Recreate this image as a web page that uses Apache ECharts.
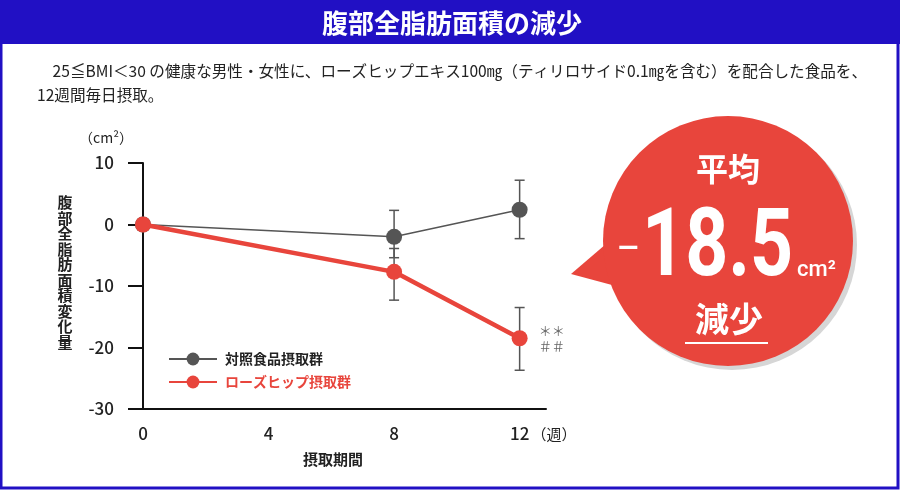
<!DOCTYPE html>
<html>
<head>
<meta charset="utf-8">
<script src="https://cdn.jsdelivr.net/npm/echarts@6.0.0/dist/echarts.min.js"></script>
<style>
  html, body { margin: 0; padding: 0; background: #fff; }
  #main { width: 900px; height: 490px; }
</style>
</head>
<body>
<div id="main"></div>
<script>
// データ (週, 平均, 誤差下限, 誤差上限)
const weeks = [0, 8, 12];
const controlMean = [0, -2.0, 2.4];
const controlLow = [null, -5.4, -2.3];
const controlHigh = [null, 2.3, 7.2];
const roseMean = [0, -7.7, -18.5];
const roseLow = [null, -12.3, -23.7];
const roseHigh = [null, -3.9, -13.5];
const xTicks = [0, 4, 8, 12];
const yTicks = [-30, -20, -10, 0, 10];
const seriesNames = ['対照食品摂取群', 'ローズヒップ摂取群'];

const FONT = '"Noto Sans CJK JP", "Noto Sans", sans-serif';
const RED = '#E8453C';
const GRAY = '#555555';
const BLUE = '#2110C4';

const chart = echarts.init(document.getElementById('main'));

// 誤差棒用データ
function errData(low, high) {
    const out = [];
    weeks.forEach(function (w, i) {
        if (low[i] != null) out.push([w, low[i], high[i]]);
    });
    return out;
}

function renderErr(params, api) {
    const x = api.value(0);
    const top = api.coord([x, api.value(2)]);
    const bot = api.coord([x, api.value(1)]);
    const w = 5;
    const st = { stroke: GRAY, lineWidth: 1.5 };
    return {
        type: 'group',
        children: [
            { type: 'line', shape: { x1: top[0], y1: top[1], x2: bot[0], y2: bot[1] }, style: st },
            { type: 'line', shape: { x1: top[0] - w, y1: top[1], x2: top[0] + w, y2: top[1] }, style: st },
            { type: 'line', shape: { x1: bot[0] - w, y1: bot[1], x2: bot[0] + w, y2: bot[1] }, style: st }
        ]
    };
}

const roseData = weeks.map(function (w, i) {
    const item = { value: [w, roseMean[i]] };
    if (i === weeks.length - 1) {
        // 有意差マーク
        item.label = {
            show: true,
            position: 'right',
            distance: 11,
            formatter: '＊＊\n＃＃',
            color: '#666',
            fontSize: 13,
            lineHeight: 15,
            fontFamily: FONT
        };
    }
    return item;
});

const option = {
    animation: false,
    backgroundColor: '#fff',
    grid: { left: 143, top: 163, width: 403, height: 246 },
    xAxis: {
        type: 'value',
        min: 0,
        max: 12.84,
        interval: 4,
        axisLine: { show: true, onZero: false, lineStyle: { color: '#111', width: 2 } },
        axisTick: { show: false },
        splitLine: { show: false },
        axisLabel: {
            margin: 16,
            fontSize: 17,
            fontWeight: 500,
            color: '#222',
            fontFamily: FONT,
            formatter: function (v) { return xTicks.indexOf(v) >= 0 ? String(v) : ''; }
        }
    },
    yAxis: {
        type: 'value',
        min: yTicks[0],
        max: yTicks[yTicks.length - 1],
        interval: 10,
        axisLine: { show: true, onZero: false, lineStyle: { color: '#111', width: 2 } },
        axisTick: { show: true, length: 15, lineStyle: { color: '#111', width: 2 } },
        splitLine: { show: false },
        axisLabel: { margin: 29, fontSize: 17, fontWeight: 500, color: '#222', fontFamily: FONT }
    },
    legend: {
        orient: 'vertical',
        left: 168,
        top: 352,
        padding: 0,
        itemWidth: 48,
        itemHeight: 16,
        itemGap: 9,
        textStyle: { fontSize: 14, fontFamily: FONT, fontWeight: 'bold', padding: [0, 0, 0, 3] },
        data: [
            { name: seriesNames[0], textStyle: { color: '#222' } },
            { name: seriesNames[1], textStyle: { color: RED } }
        ]
    },
    series: [
        {
            type: 'custom',
            name: 'err-control',
            renderItem: renderErr,
            encode: { x: 0, y: [1, 2] },
            data: errData(controlLow, controlHigh),
            z: 1
        },
        {
            type: 'custom',
            name: 'err-rose',
            renderItem: renderErr,
            encode: { x: 0, y: [1, 2] },
            data: errData(roseLow, roseHigh),
            z: 1
        },
        {
            type: 'line',
            name: seriesNames[0],
            data: weeks.map(function (w, i) { return [w, controlMean[i]]; }),
            symbol: 'circle',
            symbolSize: 16,
            lineStyle: { color: GRAY, width: 1.5 },
            itemStyle: { color: GRAY },
            z: 2
        },
        {
            type: 'line',
            name: seriesNames[1],
            data: roseData,
            symbol: 'circle',
            symbolSize: 16,
            lineStyle: { color: RED, width: 4.5 },
            itemStyle: { color: RED },
            z: 3
        }
    ],
    graphic: [
        // 外枠
        { type: 'rect', shape: { x: 1, y: 1, width: 897, height: 487 }, style: { fill: null, stroke: BLUE, lineWidth: 3 }, z: 10 },
        // ヘッダー
        { type: 'rect', shape: { x: 0, y: 0, width: 900, height: 44 }, style: { fill: BLUE }, z: 10 },
        {
            type: 'text', x: 452, y: 23, z: 11,
            style: { text: '腹部全脂肪面積の減少', fill: '#fff', font: 'bold 26px ' + FONT, textAlign: 'center', textVerticalAlign: 'middle' }
        },
        // 説明文
        {
            type: 'text', x: 37, y: 71,
            style: { text: '　25≦BMI＜30 の健康な男性・女性に、ローズヒップエキス100㎎（ティリロサイド0.1㎎を含む）を配合した食品を、', fill: '#222', font: '15.6px ' + FONT, textVerticalAlign: 'middle' }
        },
        {
            type: 'text', x: 37, y: 95,
            style: { text: '12週間毎日摂取。', fill: '#222', font: '15.6px ' + FONT, textVerticalAlign: 'middle' }
        },
        // 軸ラベル
        {
            type: 'text', x: 106, y: 138,
            style: { text: '（cm²）', fill: '#222', font: '14px ' + FONT, textAlign: 'center', textVerticalAlign: 'middle' }
        },
        {
            type: 'text', x: 65, y: 195,
            style: { text: '腹部全脂肪面積変化量'.split('').join('\n'), fill: '#222', font: 'bold 15px ' + FONT, lineHeight: 15.5, textAlign: 'center', textVerticalAlign: 'top' }
        },
        {
            type: 'text', x: 333, y: 459,
            style: { text: '摂取期間', fill: '#222', font: 'bold 15px ' + FONT, textAlign: 'center', textVerticalAlign: 'middle' }
        },
        {
            type: 'text', x: 554, y: 434,
            style: { text: '（週）', fill: '#222', font: '15px ' + FONT, textAlign: 'center', textVerticalAlign: 'middle' }
        },
        // 吹き出し
        { type: 'circle', shape: { cx: 732, cy: 245, r: 125 }, style: { fill: '#d6d6d6' }, z: 5 },
        { type: 'polygon', shape: { points: [[571, 274], [606, 244], [612, 285]] }, style: { fill: RED }, z: 6 },
        { type: 'circle', shape: { cx: 728, cy: 241, r: 125 }, style: { fill: RED }, z: 6 },
        {
            type: 'text', x: 728, y: 169, z: 7,
            style: { text: '平均', fill: '#fff', font: 'bold 32px ' + FONT, textAlign: 'center', textVerticalAlign: 'middle' }
        },
        {
            type: 'text', x: 628, y: 252, z: 7,
            style: { text: '−', fill: '#fff', font: '44px Roboto, ' + FONT, textAlign: 'center', textVerticalAlign: 'middle' }
        },
        {
            type: 'text', x: 642, y: 251, z: 7, scaleX: 0.8,
            style: { text: '18.5', fill: '#fff', font: 'bold 94px Roboto, ' + FONT, textAlign: 'left', textVerticalAlign: 'middle' }
        },
        {
            type: 'text', x: 797, y: 270, z: 7,
            style: { text: 'cm²', fill: '#fff', font: '500 22px Roboto, ' + FONT, textAlign: 'left', textVerticalAlign: 'middle' }
        },
        {
            type: 'text', x: 729, y: 319, z: 7,
            style: { text: '減少', fill: '#fff', font: 'bold 34px ' + FONT, textAlign: 'center', textVerticalAlign: 'middle' }
        },
        { type: 'rect', shape: { x: 685, y: 342, width: 83, height: 2 }, style: { fill: '#fff' }, z: 7 }
    ]
};

chart.setOption(option);
</script>
</body>
</html>
